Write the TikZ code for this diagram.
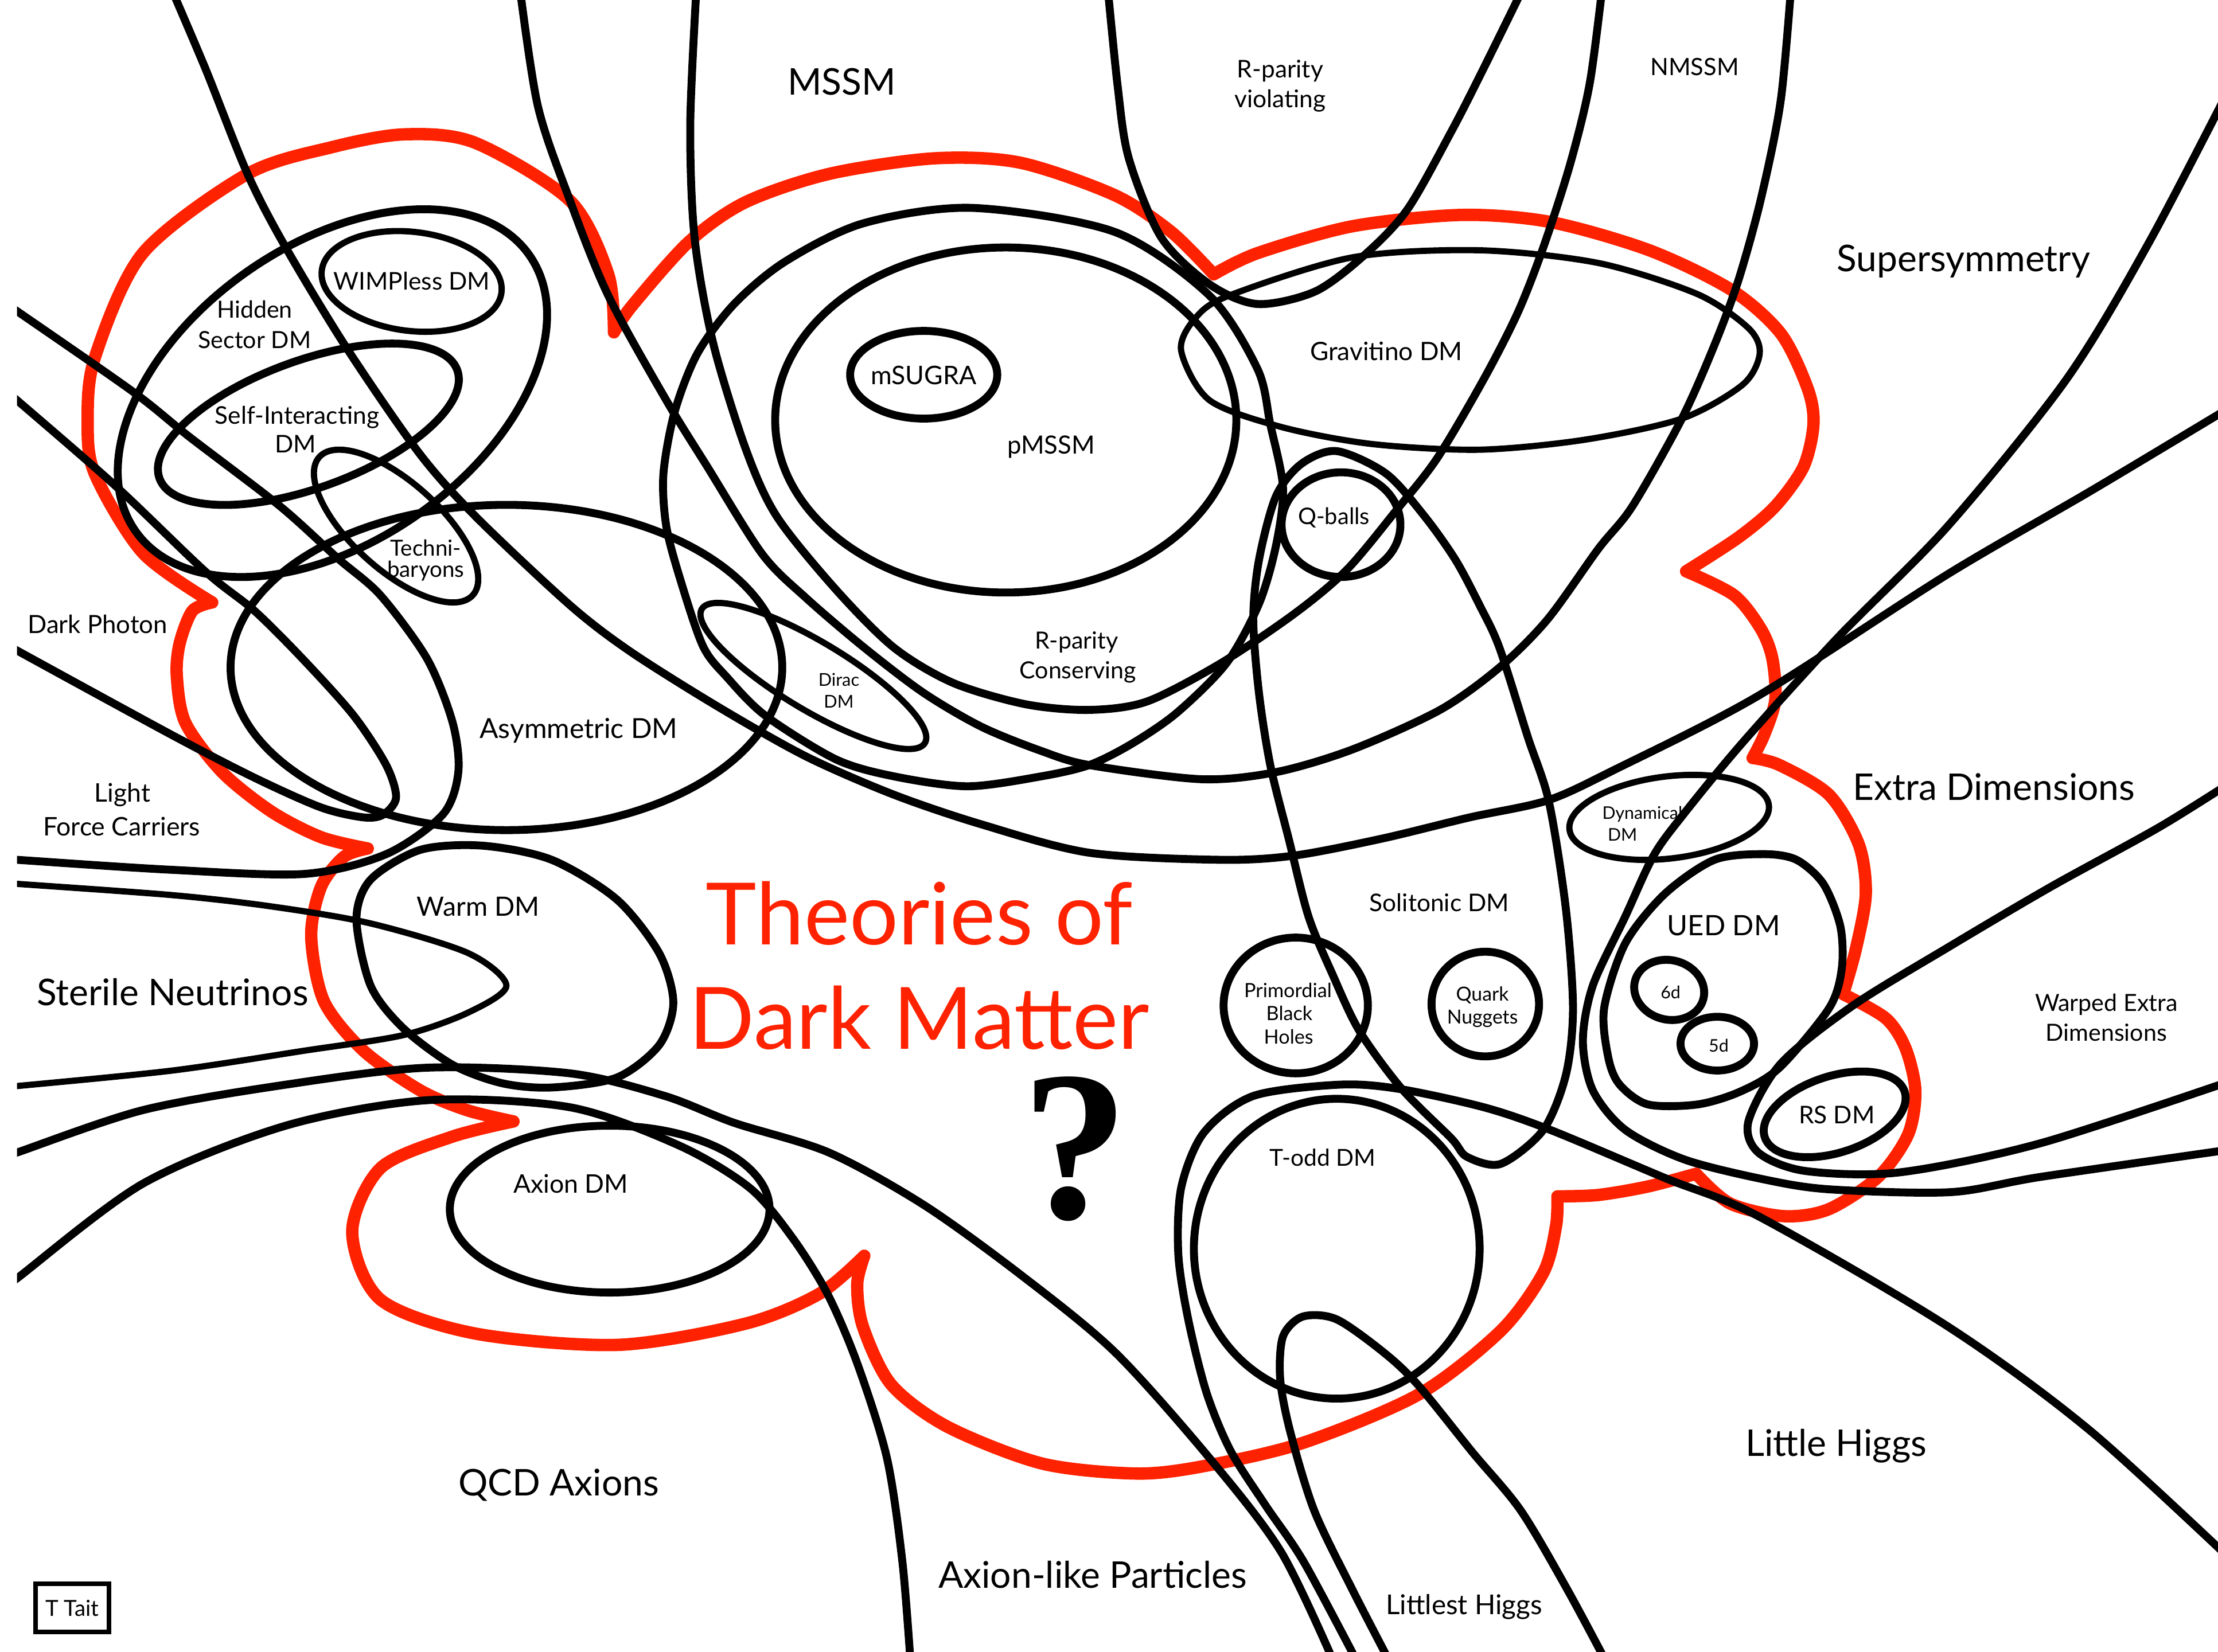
\documentclass[tikz,border=0pt]{standalone}
\usepackage{fontspec}
\setmainfont{Lato}
\newfontfamily\qfont{Liberation Serif}
\definecolor{myred}{RGB}{255,34,0}
\begin{document}
\begin{tikzpicture}[x=0.2mm,y=-0.2mm,
  blk/.style={line width=1.12mm,line join=round},
  thn/.style={line width=0.88mm,line join=round},
  redl/.style={line width=1.75mm,draw=myred,line join=round},
  lbl/.style={anchor=base,inner sep=0pt,outer sep=0pt},
  fs/.style={font=\fontsize{#1}{#1}\selectfont}]
\useasboundingbox (0,0) rectangle (1568,1168);
\fill[white] (0,0) rectangle (1568,1168);
% ---------------- red cloud ----------------
\draw[redl] plot[smooth] coordinates {(150,426) (101,391) (67,335) (62,298) (67,253) (101,179) (175,123) (235,104) (286,95) (336,101) (403,142) (430,194) (434,235)}
 -- plot[smooth] coordinates {(434,235) (447,216) (487,171) (527,143) (586,123) (660,112) (721,115) (788,138) (828,164) (858,194)}
 -- plot[smooth] coordinates {(858,194) (889,179) (956,160) (1033,152) (1096,157) (1166,177) (1224,205) (1259,236) (1278,275) (1282,300) (1275,330) (1255,358) (1229,380) (1192,404)}
 -- plot[smooth] coordinates {(1192,404) (1226,421) (1245,445) (1253,466) (1255,495) (1247,520) (1239,536)}
 -- plot[smooth] coordinates {(1239,536) (1258,541) (1293,562) (1314,597) (1319,632) (1312,671) (1303,703)}
 -- plot[smooth] coordinates {(1303,703) (1333,720) (1347,741) (1354,771) (1349,802) (1328,832) (1293,855) (1261,860) (1223,851) (1199,830)}
 -- plot[smooth] coordinates {(1199,830) (1165,839) (1130,845) (1101,846)}
 -- plot[smooth] coordinates {(1101,846) (1100,867) (1091,900) (1061,941) (1003,986) (922,1020) (855,1036) (805,1042) (737,1035) (670,1009) (630,979) (610,938) (606,908) (611,888)}
 -- plot[smooth] coordinates {(611,888) (579,915) (527,936) (437,951) (336,943) (269,919) (249,871) (269,826) (319,804) (363,793)}
 -- plot[smooth] coordinates {(363,793) (330,785) (297,771) (257,743) (229,708) (220,662) (227,627) (243,606) (260,600)}
 -- plot[smooth] coordinates {(260,600) (227,592) (192,574) (157,546) (131,511) (125,478) (127,455) (136,432) (150,426)} -- cycle;
% ---------------- black curves ----------------
\begin{scope}
\clip (12,0) rectangle (1568,1168);
% Supersymmetry
\draw[blk] plot[smooth] coordinates {(116,-20) (145,48) (175,123) (202,175) (245,246) (296,320) (336,365) (403,428) (446,461) (508,500) (570,535) (632,562) (694,583) (770,603) (863,608) (915,605) (977,593) (1039,578) (1094,566) (1142,544) (1243,492) (1377,406) (1480,346) (1590,280)};
% MSSM
\draw[blk] plot[smooth] coordinates {(366,-20) (380,74) (403,142) (430,209) (471,283) (500,330) (539,392) (570,423) (611,458) (653,490) (694,514) (736,531) (770,541) (849,551) (902,546) (956,530) (1018,502) (1060,472) (1094,438) (1130,388) (1154,358) (1189,296) (1212,244) (1229,198) (1245,140) (1259,70) (1267,-20)};
% R-parity conserving
\draw[blk] plot[smooth] coordinates {(493,-20) (488,86) (491,168) (504,242) (527,317) (549,365) (591,417) (632,458) (674,483) (725,498) (770,502) (811,496) (863,469) (915,434) (952,403) (987,361) (1016,324) (1049,268) (1073,221) (1091,175) (1110,116) (1124,58) (1134,-20)};
% R-parity violating
\draw[blk] plot[smooth] coordinates {(782,-20) (790,60) (798,112) (821,168) (855,201) (889,215) (930,206) (965,180) (995,148) (1026,93) (1048,50) (1080,-15)};
% big loop around pMSSM
\draw[blk] plot[smooth cycle] coordinates {(469,335) (471,372) (481,410) (497,457) (514,479) (541,506) (591,537) (632,549) (684,556) (736,549) (770,541) (800,526) (832,504) (867,469) (890,427) (902,386) (907,345) (898,300) (889,261) (855,209) (788,164) (687,147) (610,158) (555,185) (519,215) (493,250) (477,291)};
\draw[blk] (711,297) ellipse [x radius=32.6mm, y radius=24.4mm];
\draw[blk] (653,265) ellipse [x radius=10.4mm, y radius=6.2mm];
% Gravitino
\draw[thn] plot[smooth cycle] coordinates {(835,248) (845,225) (869,209) (956,182) (1046,177) (1130,186) (1200,208) (1236,232) (1244,250) (1232,272) (1189,296) (1120,311) (1046,318) (970,314) (906,302) (855,283)};
% Q-balls
\draw[blk] (948,371) ellipse [x radius=8.4mm, y radius=7.4mm];
% Solitonic
\draw[blk] plot[smooth cycle] coordinates {(945,319) (980,335) (1007,365) (1029,396) (1046,428) (1060,458) (1080,521) (1095,567) (1107,643) (1112,713) (1107,760) (1091,799) (1061,823) (1037,818) (1026,805) (991,770) (961,729) (942,689) (925,648) (911,593) (898,541) (890,490) (886,438) (890,396) (902,351) (920,328)};
\draw[blk] (916,711) ellipse [x radius=10.2mm, y radius=9.6mm];
\draw[blk] (1050,710) ellipse [x radius=7.6mm, y radius=7.4mm];
\draw[blk] (945,883) ellipse [x radius=20.2mm, y radius=21.2mm];
% Little Higgs
\draw[blk] plot[smooth] coordinates {(1590,1115) (1478,1012) (1377,938) (1243,860) (1177,833) (1096,799) (1049,783) (989,770) (947,767) (886,775) (851,801) (835,840) (833,887) (840,933) (853,985) (870,1026) (895,1065) (922,1105) (962,1180)};
% Littlest Higgs
\draw[blk] plot[smooth] coordinates {(985,1180) (956,1124) (929,1068) (912,1012) (905,975) (907,945) (921,931) (945,933) (979,957) (1003,980) (1041,1027) (1075,1068) (1108,1124) (1138,1180)};
% Extra dimensions
\draw[blk] plot[smooth] coordinates {(1585,45) (1520,170) (1461,268) (1377,372) (1300,450) (1232,525) (1190,576) (1169,605) (1149,648) (1126,697) (1119,736) (1126,771) (1149,799) (1191,820) (1247,834) (1293,841) (1379,843) (1444,832) (1590,811)};
% Warped
\draw[blk] plot[smooth] coordinates {(1590,545) (1528,584) (1450,627) (1377,670) (1310,711) (1259,752) (1236,793) (1243,815) (1276,828) (1343,829) (1444,808) (1590,760)};
% UED
\draw[blk] plot[smooth cycle] coordinates {(1247,604) (1270,608) (1289,625) (1301,655) (1302,685) (1293,713) (1258,755) (1230,772) (1200,781) (1165,781) (1145,767) (1137,748) (1134,713) (1149,667) (1177,632) (1212,608)};
\draw[blk, rotate around={-15:(1180,700)}] (1180,700) ellipse [x radius=5mm, y radius=4.2mm];
\draw[blk] (1214,738) ellipse [x radius=5.2mm, y radius=3.8mm];
\draw[blk, rotate around={18:(1297,788)}] (1297,788) ellipse [x radius=10.4mm, y radius=5.4mm];
\draw[thn, rotate around={7:(1180,578)}] (1180,578) ellipse [x radius=14.2mm, y radius=5.8mm];
% left side
\draw[blk] (358,472) ellipse [x radius=39mm, y radius=23mm];
\draw[thn, rotate around={-31:(575,478)}] (575,478) ellipse [x radius=18.4mm, y radius=4.8mm];
\draw[blk, rotate around={35:(235,278)}] (235,278) ellipse [x radius=34mm, y radius=21mm];
\draw[thn, rotate around={-7:(291,199)}] (291,199) ellipse [x radius=12.8mm, y radius=7mm];
\draw[blk, rotate around={20:(218,300)}] (218,300) ellipse [x radius=22.4mm, y radius=9mm];
\draw[thn, rotate around={-42:(280,372)}] (280,372) ellipse [x radius=14.6mm, y radius=6.2mm];
% Light force carriers
\draw[blk] plot[smooth] coordinates {(0,212) (12,220) (94,277) (134,309) (198,358) (239,395) (269,421) (302,466) (320,511) (324,546) (313,576) (273,604) (215,618) (120,615) (12,608) (0,607)};
% Dark photon
\draw[blk] plot[smooth] coordinates {(0,273) (12,283) (81,343) (145,404) (180,432) (215,467) (250,506) (273,541) (280,564) (271,576) (257,578) (227,571) (180,550) (122,520) (12,460) (0,453)};
% Sterile neutrinos
\draw[thn] plot[smooth] coordinates {(0,624) (12,625) (122,633) (192,641) (262,653) (331,674) (358,697) (331,716) (285,732) (215,743) (122,757) (12,768) (0,769)};
% Warm DM
\draw[blk] plot[smooth cycle] coordinates {(252,650) (262,622) (297,601) (341,598) (390,608) (436,636) (466,674) (476,709) (466,739) (436,762) (390,769) (355,766) (320,753) (285,727) (262,697)};
% Axion DM
\draw[blk] (431,855) ellipse [x radius=22.6mm, y radius=11.8mm];
% Axion-like particles
\draw[blk] plot[smooth] coordinates {(0,819) (12,815) (101,785) (202,767) (302,755) (403,759) (470,775) (519,794) (586,815) (653,852) (721,901) (788,956) (855,1031) (906,1098) (945,1180)};
% QCD axions
\draw[blk] plot[smooth] coordinates {(0,913) (12,904) (101,837) (202,796) (302,778) (403,783) (480,810) (530,840) (560,875) (585,915) (606,964) (627,1031) (638,1105) (644,1180)};
\end{scope}
% ---------------- labels ----------------
\node[lbl,fs=14.8] (susy) at (1388,192) {Supersymmetry};
\node[lbl,fs=14.8] (mssm) at (595,67) {MSSM};
\node[lbl,fs=9.8] (rpv1) at (905,55) {R-parity};
\node[lbl,fs=9.8] (rpv2) at (905,76) {violating};
\node[lbl,fs=9.6] (nmssm) at (1198,53.5) {NMSSM};
\node[lbl,fs=10.2] (grav) at (980,255) {Gravitino DM};
\node[lbl,fs=10.3] (msugra) at (653,272) {mSUGRA};
\node[lbl,fs=10.1] (pmssm) at (743,321) {pMSSM};
\node[lbl,fs=9.2] (qballs) at (943,371) {Q-balls};
\node[lbl,fs=9.5] (rpc1) at (761,459) {R-parity};
\node[lbl,fs=9.5] (rpc2) at (762,480) {Conserving};
\node[lbl,fs=7.1] (dirac1) at (593,485) {Dirac};
\node[lbl,fs=7.1] (dirac2) at (593,500.5) {DM};
\node[lbl,fs=9.8] (wimpless) at (291,205) {WIMPless DM};
\node[lbl,fs=9.5] (hidden1) at (180,225) {Hidden};
\node[lbl,fs=9.5] (hidden2) at (180,246.5) {Sector DM};
\node[lbl,fs=9.8] (sidm1) at (210,300) {Self-Interacting};
\node[lbl,fs=9.8] (sidm2) at (209,320) {DM};
\node[lbl,fs=8.9] (techni1) at (301,393) {Techni-};
\node[lbl,fs=8.9] (techni2) at (301,408) {baryons};
\node[lbl,fs=10.1] (darkph) at (69,448) {Dark Photon};
\node[lbl,fs=11.1] (asym) at (409,522) {Asymmetric DM};
\node[lbl,fs=10.3] (light1) at (86.5,567) {Light};
\node[lbl,fs=10.3] (light2) at (86,591) {Force Carriers};
\node[lbl,fs=14.8] (sterile) at (122,711) {Sterile Neutrinos};
\node[lbl,fs=10.7] (warm) at (338,647.6) {Warm DM};
\node[lbl,fs=10.3] (axiondm) at (403.5,843.6) {Axion DM};
\node[lbl,fs=14.8] (qcd) at (395,1057.7) {QCD Axions};
\node[lbl,fs=14.8] (alp) at (772.5,1123) {Axion-like Particles};
\node[lbl,fs=11] (littlest) at (1035,1141.5) {Littlest Higgs};
\node[lbl,fs=14.8] (little) at (1298,1029.8) {Little Higgs};
\node[lbl,fs=9.4] (todd) at (935,824.7) {T-odd DM};
\node[lbl,fs=7.9] (pbh1) at (910.5,705.3) {Primordial};
\node[lbl,fs=7.9] (pbh2) at (911.5,721.6) {Black};
\node[lbl,fs=7.9] (pbh3) at (911,738.3) {Holes};
\node[lbl,fs=7.8] (qn1) at (1048,707.6) {Quark};
\node[lbl,fs=7.8] (qn2) at (1048,724) {Nuggets};
\node[lbl,fs=9.8] (solit) at (1017.5,644.7) {Solitonic DM};
\node[lbl,fs=14.8] (extra) at (1409.5,566) {Extra Dimensions};
\node[lbl,fs=7] (dyn1) at (1161,579.4) {Dynamical};
\node[lbl,fs=7] (dyn2) at (1147,594.5) {DM};
\node[lbl,fs=11.3] (ued) at (1218.5,661.5) {UED DM};
\node[lbl,fs=7] (sixd) at (1181,706.2) {6d};
\node[lbl,fs=7] (fived) at (1215,744) {5d};
\node[lbl,fs=9.8] (rsdm) at (1298.5,794.6) {RS DM};
\node[lbl,fs=9.5] (warped1) at (1489,715) {Warped Extra};
\node[lbl,fs=9.5] (warped2) at (1489,736) {Dimensions};
\node[lbl,fs=34.6,text=myred] (title1) at (650,668) {Theories of};
\node[lbl,fs=34.6,text=myred] (title2) at (650,742) {Dark Matter};
\node[lbl,font=\qfont\bfseries\fontsize{86}{86}\selectfont] (qmark) at (760,861.5) {?};
\node[draw,line width=0.65mm,minimum width=10.4mm,minimum height=6.8mm,inner sep=0pt,fs=8.9] (tait) at (51,1137) {T Tait};
\end{tikzpicture}
\end{document}
